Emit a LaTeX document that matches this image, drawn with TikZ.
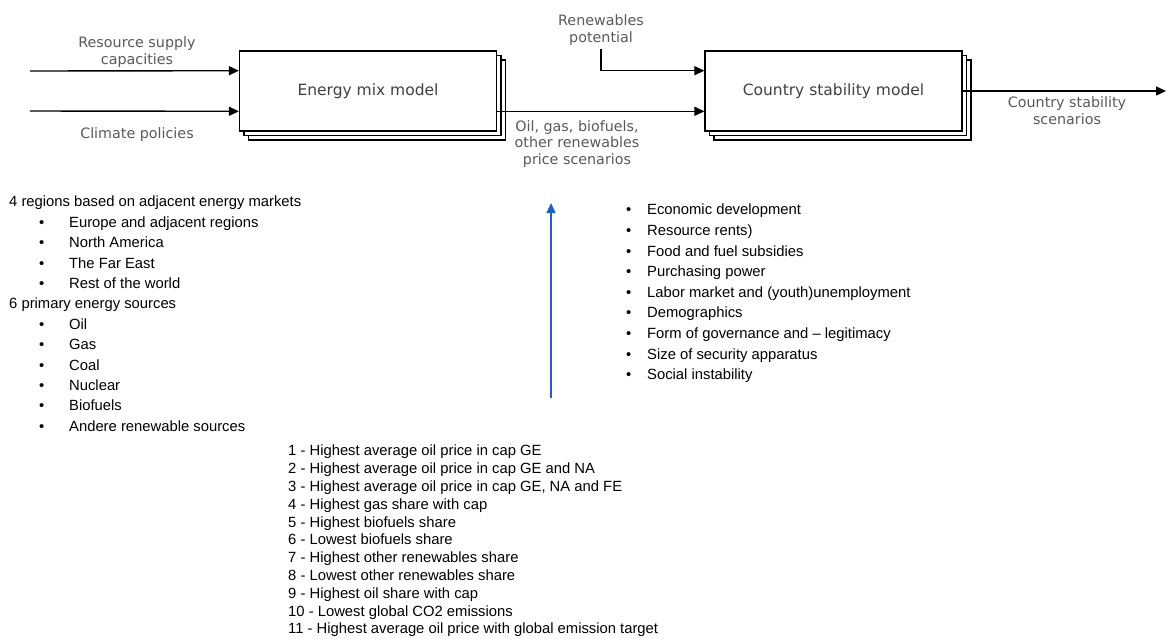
\documentclass[tikz,border=0pt]{standalone}
\usepackage{fontspec}
\setmainfont{Liberation Sans}
\newfontfamily\dinfont{DejaVu Sans}
\usetikzlibrary{arrows.meta, positioning, calc, shadows}

\newcommand{\bitem}[1]{\hspace*{30pt}\makebox[30pt][l]{\textbullet}#1}
\newcommand{\ritem}[1]{\makebox[21pt][l]{\textbullet}#1}

\begin{document}
\begin{tikzpicture}[
    x=1pt, y=-1pt,
    model/.style={rectangle, draw=black, fill=white, line width=1.2pt, minimum width=257pt, minimum height=80pt, align=center, font=\dinfont\fontsize{15.5}{18}\selectfont\color{black!75},
        double copy shadow={shadow xshift=4.5pt, shadow yshift=-4.5pt}},
    arrow/.style={-{Triangle[length=10pt, width=9pt]}, line width=1.4pt},
    flow_label/.style={font=\dinfont\fontsize{14.3}{16.8}\selectfont, text=black!65, align=center, inner sep=0pt},
    list/.style={font=\fontsize{14.8}{20.4}\selectfont, align=left, anchor=north west, inner sep=0pt},
    numlist/.style={font=\fontsize{14.8}{17.8}\selectfont, align=left, anchor=north west, inner sep=0pt}
]
    \useasboundingbox (0,0) rectangle (1167,638);

    % Models
    \node[model] (energy) at (368,91) {Energy mix model};
    \node[model] (stab) at (833.5,91) {Country stability model};

    % Flow labels
    \node[flow_label] (supply) at (137,52) {Resource supply\\capacities};
    \node[flow_label] (climate) at (137,135) {Climate policies};
    \node[flow_label] (renew) at (601,30) {Renewables\\potential};
    \node[flow_label] (price) at (577,144) {Oil, gas, biofuels,\\other renewables\\price scenarios};
    \node[flow_label] (scen) at (1067,111) {Country stability\\scenarios};

    % Free ends
    \coordinate (supply_in) at (30,71);
    \coordinate (climate_in) at (30,111);
    \coordinate (scen_out) at (1166,91);

    % Connectors
    \draw[arrow] (supply_in) -- ($(energy.north west)!0.25!(energy.south west)$);
    \draw[arrow] (climate_in) -- ($(energy.north west)!0.75!(energy.south west)$);
    \draw[arrow] ($(energy.north east)!0.75!(energy.south east)$) -- ($(stab.north west)!0.75!(stab.south west)$);
    \draw[arrow] (renew.south) ++(0,3) |- ($(stab.north west)!0.25!(stab.south west)$);
    \draw[arrow] (stab.east) -- (scen_out);

    % Energy model inputs
    \node[list] (regions) at (9,196) {4 regions based on adjacent energy markets\\
        \bitem{Europe and adjacent regions}\\
        \bitem{North America}\\
        \bitem{The Far East}\\
        \bitem{Rest of the world}\\
        6 primary energy sources\\
        \bitem{Oil}\\
        \bitem{Gas}\\
        \bitem{Coal}\\
        \bitem{Nuclear}\\
        \bitem{Biofuels}\\
        \bitem{Andere renewable sources}};

    % Stability model factors
    \node[list, font=\fontsize{14.8}{20.6}\selectfont] (factors) at (626,204) {\ritem{Economic development}\\
        \ritem{Resource rents)}\\
        \ritem{Food and fuel subsidies}\\
        \ritem{Purchasing power}\\
        \ritem{Labor market and (youth)unemployment}\\
        \ritem{Demographics}\\
        \ritem{Form of governance and -- legitimacy}\\
        \ritem{Size of security apparatus}\\
        \ritem{Social instability}};

    \coordinate (feed_start) at (551,398);
    \coordinate (feed_end) at (551,203);
    \draw[-{Triangle[length=10pt, width=9pt]}, line width=1.4pt, draw={rgb,255:red,30;green,95;blue,200}] (feed_start) -- (feed_end);

    % Scenarios
    \node[numlist] (cases) at (288,445) {1 - Highest average oil price in cap GE\\
        2 - Highest average oil price in cap GE and NA\\
        3 - Highest average oil price in cap GE, NA and FE\\
        4 - Highest gas share with cap\\
        5 - Highest biofuels share\\
        6 - Lowest biofuels share\\
        7 - Highest other renewables share\\
        8 - Lowest other renewables share\\
        9 - Highest oil share with cap\\
        10 - Lowest global CO2 emissions\\
        11 - Highest average oil price with global emission target};

\end{tikzpicture}
\end{document}
